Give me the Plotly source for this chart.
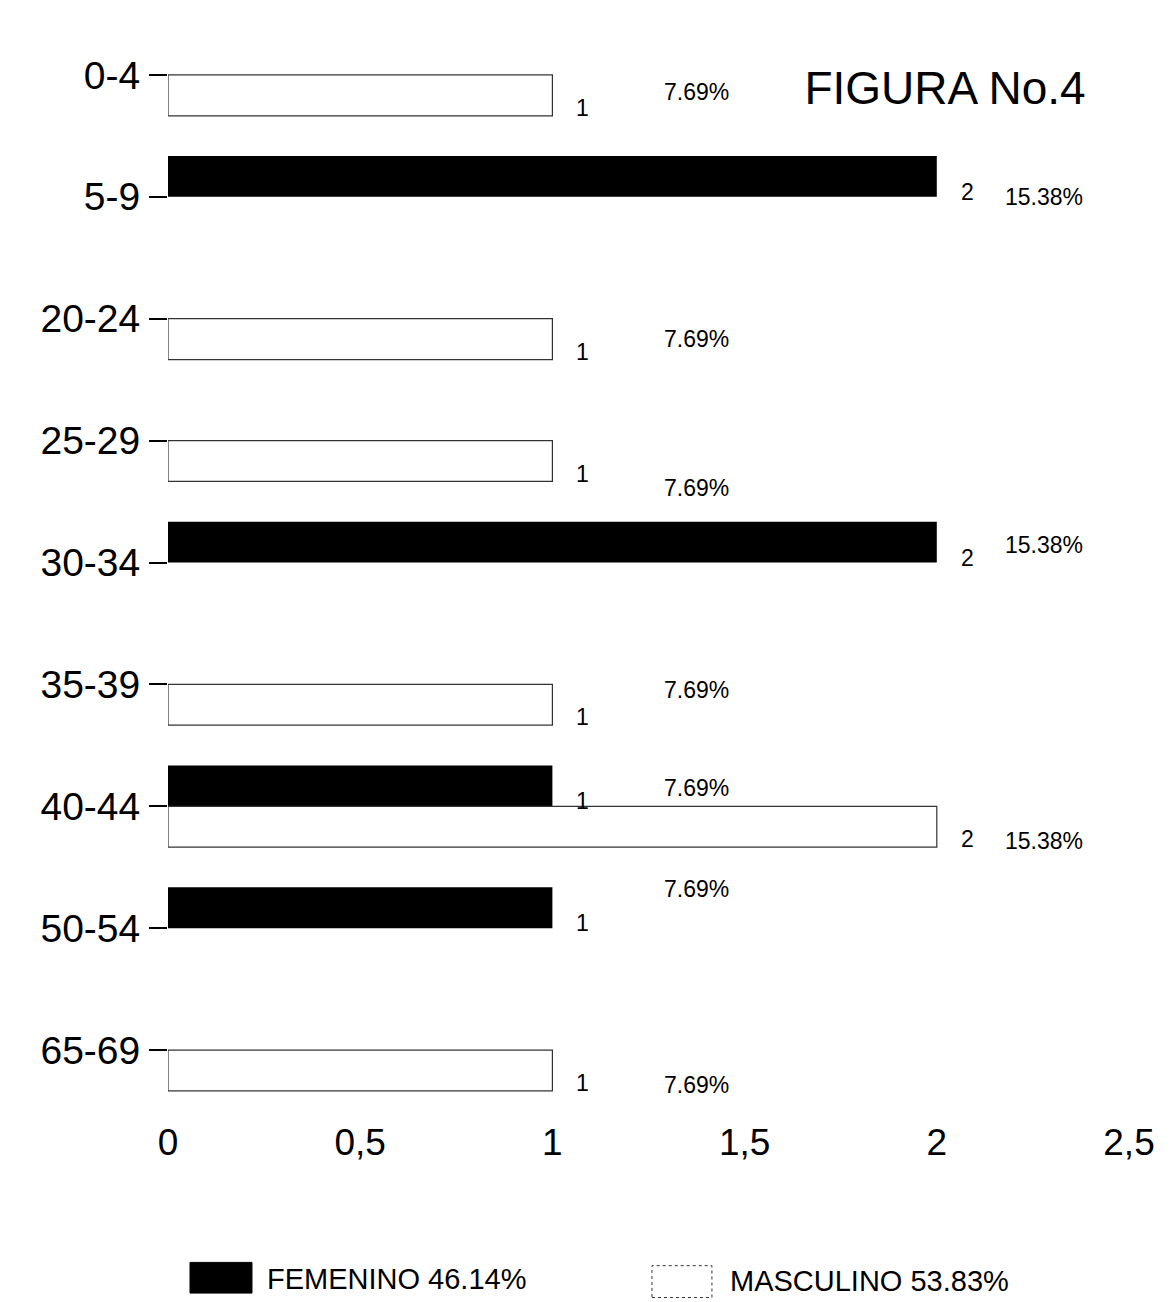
import plotly.graph_objects as go

# ---- data ----
age_groups = ["0-4", "5-9", "20-24", "25-29", "30-34", "35-39", "40-44", "50-54", "65-69"]
femenino = [0, 2, 0, 0, 2, 0, 1, 1, 0]
masculino = [1, 0, 1, 1, 0, 1, 2, 0, 1]
x_ticks = [0, 0.5, 1, 1.5, 2, 2.5]
legend_labels = {"FEMENINO": "FEMENINO 46.14%", "MASCULINO": "MASCULINO 53.83%"}
title_text = "FIGURA No.4"

total = sum(femenino) + sum(masculino)

# ---- styling ----
FONT = "Liberation Sans, Arial, Helvetica, sans-serif"
# page has an 8px body margin, so the figure is sized/offset to compensate
W, H = 1162, 1294
# vertical pixel offsets (screen-down positive) for the percentage labels, per series/group
pct_offset_f = {"5-9": 0, "30-34": -18, "40-44": -18, "50-54": -39}
pct_offset_m = {"0-4": 17, "20-24": 20, "25-29": 47, "35-39": 6, "40-44": 35, "65-69": 35}

def nz(vals):
    return [v if v else None for v in vals]

fig = go.Figure()
fig.add_trace(go.Bar(
    name="FEMENINO", y=age_groups, x=nz(femenino), orientation="h",
    marker=dict(color="black", line=dict(color="black", width=0)),
    showlegend=False,
))
fig.add_trace(go.Bar(
    name="MASCULINO", y=age_groups, x=nz(masculino), orientation="h",
    marker=dict(color="white", line=dict(color="#333333", width=1.2)),
    showlegend=False,
))

annotations = []
for series, vals, num_shift, offs in (
    ("F", femenino, 5, pct_offset_f),
    ("M", masculino, -33, pct_offset_m),
):
    for g, v in zip(age_groups, vals):
        if not v:
            continue
        annotations.append(dict(
            x=v, y=g, xref="x", yref="y", text=str(v), showarrow=False,
            xanchor="left", xshift=22, yshift=num_shift,
            font=dict(family=FONT, size=23, color="black"),
        ))
        pct = f"{v / total * 100:.2f}%"
        px_x = 1.376 if v == 1 else 2.28
        annotations.append(dict(
            x=px_x, y=g, xref="x", yref="y", text=pct, showarrow=False,
            xanchor="center", yshift=-offs[g],
            font=dict(family=FONT, size=23, color="black"),
        ))

# legend drawn manually (big swatches like the reference)
shapes = [
    dict(type="rect", xref="paper", yref="paper", x0=0.0229, x1=0.0874,
         y0=-0.166, y1=-0.138, fillcolor="black", line=dict(color="black", width=1)),
    dict(type="rect", xref="paper", yref="paper", x0=0.5036, x1=0.566,
         y0=-0.170, y1=-0.141, fillcolor="white",
         line=dict(color="#333333", width=1, dash="dot")),
]
annotations += [
    dict(x=0.1009, y=-0.153, xref="paper", yref="paper", text=legend_labels["FEMENINO"],
         showarrow=False, xanchor="left", yanchor="middle",
         font=dict(family=FONT, size=29, color="black")),
    dict(x=0.5827, y=-0.155, xref="paper", yref="paper", text=legend_labels["MASCULINO"],
         showarrow=False, xanchor="left", yanchor="middle",
         font=dict(family=FONT, size=29, color="black")),
]

fig.update_layout(
    width=W, height=H,
    margin=dict(l=160, r=41, t=6, b=191, autoexpand=False),
    paper_bgcolor="white", plot_bgcolor="white",
    barmode="group", bargap=0.33, bargroupgap=0,
    separators=",.",
    font=dict(family=FONT, color="black"),
    title=dict(text=title_text, x=937 / W, y=1 - 80 / H, xanchor="center", yanchor="middle",
               font=dict(family=FONT, size=46, color="black")),
    annotations=annotations,
    shapes=shapes,
)
fig.update_xaxes(
    range=[0, 2.5], tickvals=x_ticks, showgrid=False, zeroline=False,
    showline=False, ticks="", tickfont=dict(family=FONT, size=37, color="black"),
    ticklabelstandoff=6, automargin=False,
)
fig.update_yaxes(
    autorange="reversed", showgrid=False, zeroline=False, showline=False,
    ticks="outside", ticklen=18, tickwidth=1.5, tickcolor="black",
    tickfont=dict(family=FONT, size=39, color="black"), ticklabelstandoff=1,
    automargin=False,
)

fig.write_html("out.html")
